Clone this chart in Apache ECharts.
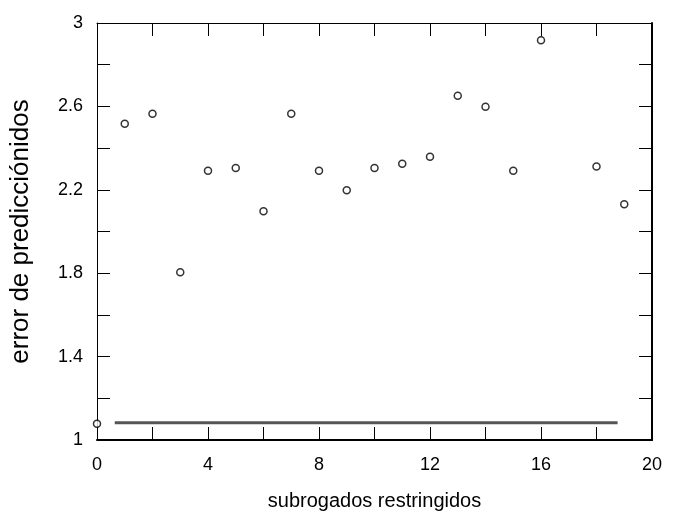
<!DOCTYPE html>
<html>
<head>
<meta charset="utf-8">
<script src="https://cdn.jsdelivr.net/npm/echarts@6/dist/echarts.min.js"></script>
<style>
  html, body { margin: 0; padding: 0; background: #fff; }
  #chart { width: 676px; height: 517px; }
</style>
</head>
<body>
<div id="chart"></div>
<script>
// datos
const subrogados = [0, 1, 2, 3, 4, 5, 6, 7, 8, 9, 10, 11, 12, 13, 14, 15, 16, 18, 19]
const errores = [1.078, 2.517, 2.565, 1.805, 2.291, 2.304, 2.097, 2.565, 2.291, 2.198,
  2.304, 2.325, 2.358, 2.651, 2.598, 2.291, 2.917, 2.312, 2.131]
// linea horizontal de referencia
const lineaX = [0.64, 18.76]
const lineaY = [1.083, 1.083]

const labelFont = '"Liberation Sans Narrow", "Liberation Sans", Arial, sans-serif'
const titleFont = '"Liberation Sans", Arial, sans-serif'
const fmt = (v, i) => (i % 2 === 0 ? String(parseFloat(v.toFixed(1))) : '')

let chart = echarts.init(document.getElementById('chart'))

const tick = { inside: true, length: 13, lineStyle: { color: '#000', width: 1 } }
const xBase = { type: 'value', min: 0, max: 20, interval: 2, splitLine: { show: false }, axisTick: tick }
const yBase = { type: 'value', min: 1, max: 3, interval: 0.2, splitLine: { show: false }, axisTick: tick }

chart.setOption({
  animation: false,
  grid: { left: 96, right: 24, top: 23, bottom: 77 },
  xAxis: [
    { ...xBase,
      position: 'bottom',
      name: 'subrogados restringidos',
      nameLocation: 'middle',
      nameGap: 51,
      nameTextStyle: { color: '#000', fontSize: 20, fontFamily: titleFont },
      axisLine: { onZero: false, lineStyle: { color: '#000', width: 2 } },
      axisLabel: { color: '#000', fontSize: 18, margin: 16, fontFamily: labelFont, formatter: fmt }
    },
    { ...xBase,
      position: 'top',
      axisLine: { onZero: false, lineStyle: { color: '#000', width: 1 } },
      axisLabel: { show: false }
    }
  ],
  yAxis: [
    { ...yBase,
      position: 'left',
      name: 'error de predicciónidos',
      nameLocation: 'middle',
      nameGap: 63,
      nameTextStyle: { color: '#000', fontSize: 26, fontFamily: titleFont },
      axisLine: { onZero: false, lineStyle: { color: '#000', width: 1 } },
      axisLabel: { color: '#000', fontSize: 18, margin: 14, fontFamily: labelFont, formatter: fmt }
    },
    { ...yBase,
      position: 'right',
      axisLine: { onZero: false, lineStyle: { color: '#000', width: 2 } },
      axisLabel: { show: false }
    }
  ],
  series: [
    {
      type: 'line',
      data: lineaX.map((x, i) => [x, lineaY[i]]),
      symbol: 'none',
      lineStyle: { color: '#555', width: 3 },
      silent: true
    },
    {
      type: 'scatter',
      data: subrogados.map((x, i) => [x, errores[i]]),
      symbol: 'circle',
      symbolSize: 7,
      clip: false,
      itemStyle: { color: '#fff', borderColor: '#000', borderWidth: 1.5 }
    }
  ]
})
</script>
</body>
</html>
